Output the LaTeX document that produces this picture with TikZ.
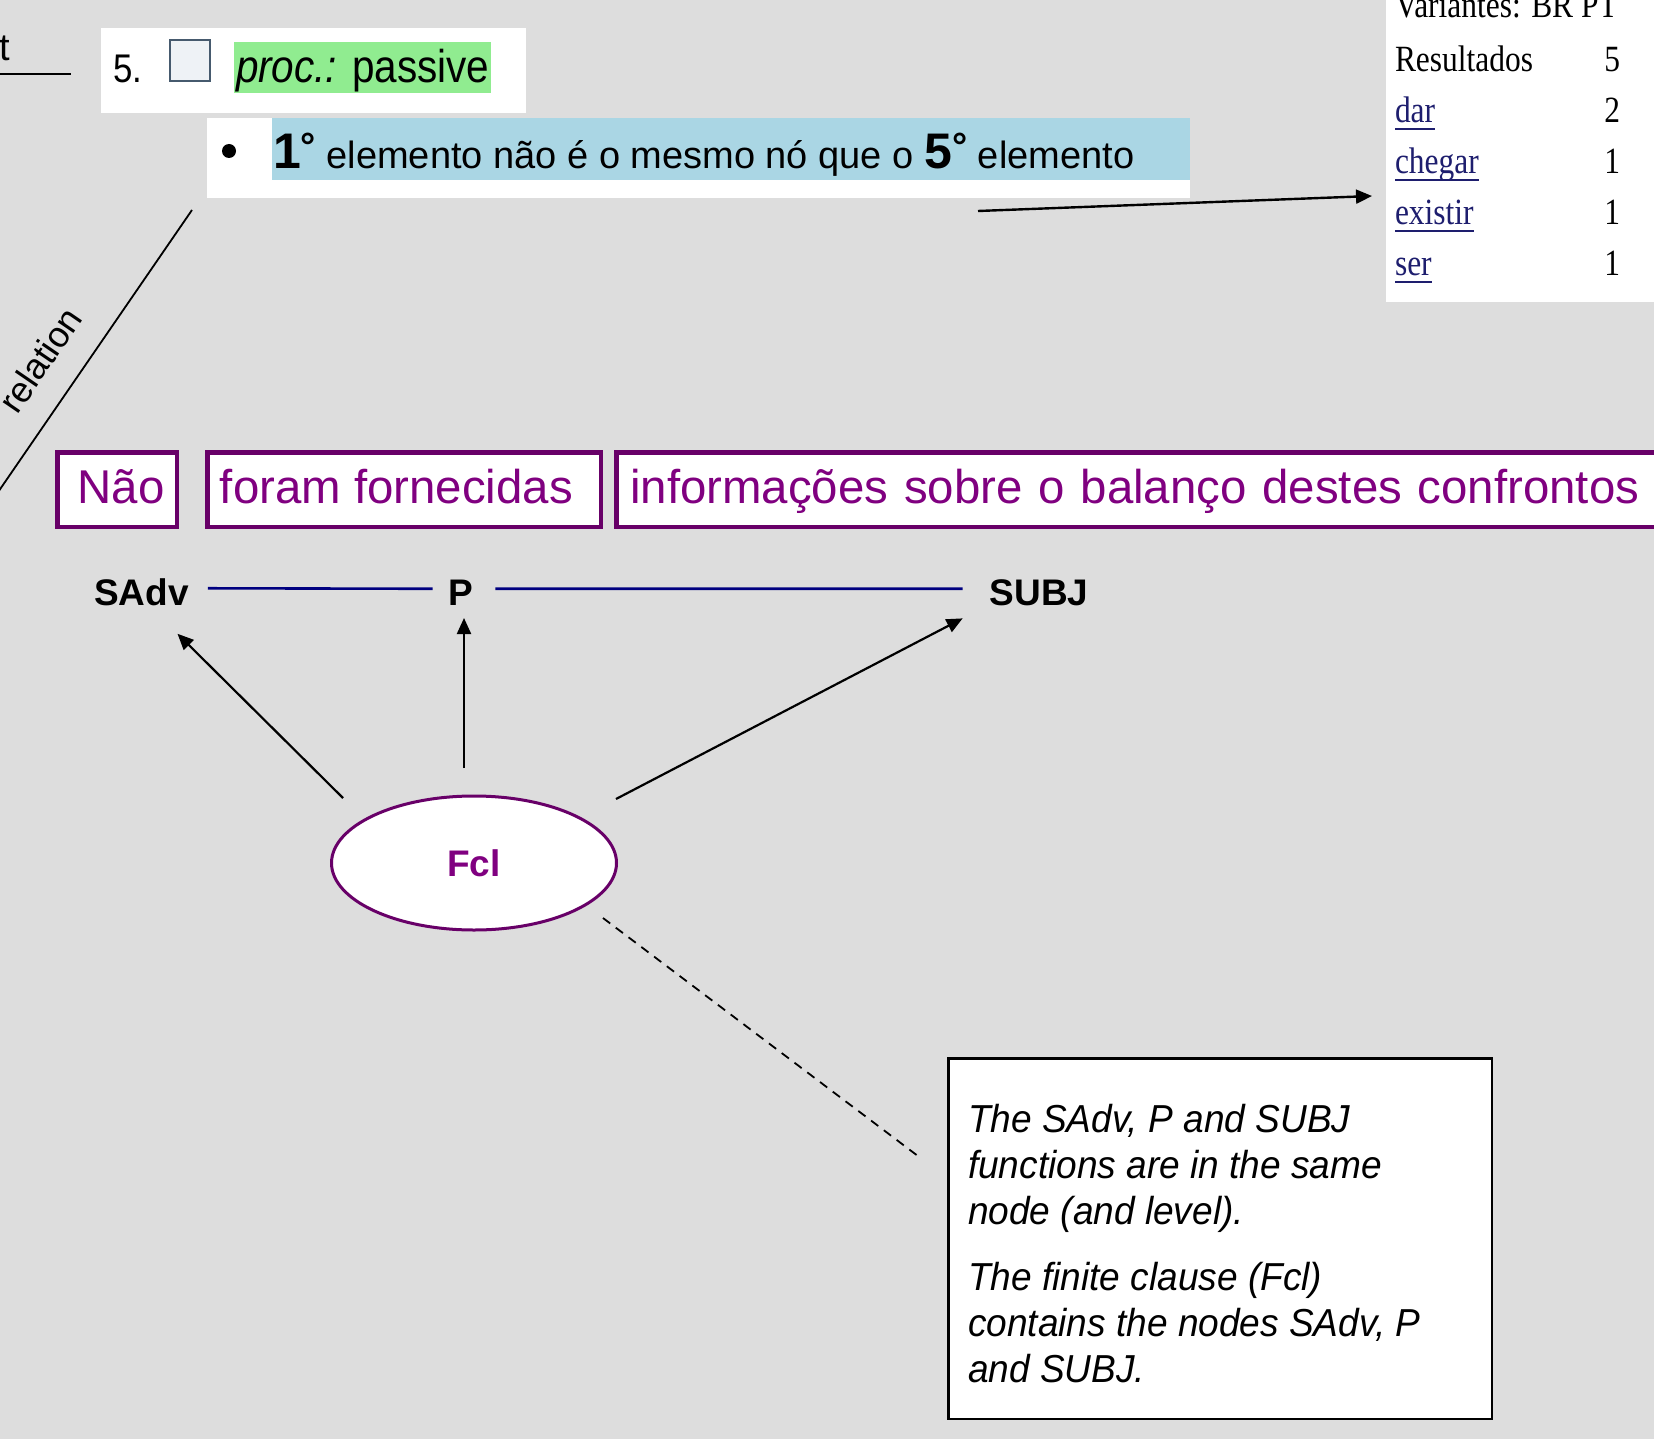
\documentclass[tikz,border=0pt]{standalone}
\usepackage{fontspec}
\setmainfont{Liberation Sans}
\newfontfamily\tabfont{Liberation Serif}
\usetikzlibrary{arrows.meta,shapes.geometric,calc}
\definecolor{bg}{RGB}{221,221,221}
\definecolor{purp}{RGB}{128,0,128}
\definecolor{purpdark}{RGB}{104,0,104}
\definecolor{navyl}{RGB}{0,0,128}
\definecolor{greenhl}{RGB}{144,236,144}
\definecolor{bluehl}{RGB}{170,214,228}
\definecolor{linkc}{RGB}{30,30,110}
\definecolor{chkc}{RGB}{70,90,110}
\definecolor{chkfill}{RGB}{238,242,246}
\newcommand\myfs[2]{\fontsize{#1}{#2}\selectfont}
\newsavebox\lnkbox
\newcommand\lnk[1]{\sbox\lnkbox{#1}\rlap{\rule[-7pt]{\wd\lnkbox}{1.6pt}}\usebox\lnkbox}
\newcommand\degr{\raisebox{9pt}{\bfseries °}}
\begin{document}
\begin{tikzpicture}[x=1pt,y=-1pt,
  every node/.style={inner sep=0pt, outer sep=0pt},
  pbox/.style={draw=purpdark, line width=4.5pt, fill=white, text=purp, font=\myfs{47.4}{58}, text height=36pt, text depth=9pt},
  bigl/.style={font=\myfs{37}{44}\bfseries},
  arr/.style={line width=2.2pt, -{Triangle[length=16pt,width=14pt]}},
  tabtxt/.style={font=\tabfont\myfs{37}{44}, xscale=0.85},
  lnktxt/.style={tabtxt, text=linkc},
  whitebox/.style={fill=white}]
\fill[bg] (0,0) rectangle (1654,1439);
\useasboundingbox (0,0) rectangle (1654,1439);

% top-left fragment
\node[font=\myfs{38}{44}, anchor=base west] (tfrag) at (-1,61) {t};
\coordinate (ul0) at (0,74);
\coordinate (ul1) at (71,74);
\draw[line width=1.8pt] (ul0) -- (ul1);

% box 1
\node[whitebox, minimum width=425, minimum height=85, anchor=north west] (box1) at (101,28) {};
\node[draw=chkc, line width=2pt, fill=chkfill, minimum width=40, minimum height=41, anchor=north west] (chk) at (170,40) {};
\node[font=\myfs{40}{44}, xscale=0.87, anchor=base west] (num5) at (113,83) {5.};
\node[fill=greenhl, minimum width=257, minimum height=51, anchor=north west] (hl1) at (234,42) {};
\node[font=\myfs{46}{50}, xscale=0.88, anchor=base west] (proc) at (236,83) {\textit{proc.:} passive};

% box 2
\node[whitebox, minimum width=983, minimum height=80, anchor=north west] (box2) at (207,118) {};
\node[fill=bluehl, minimum width=918, minimum height=62, anchor=north west] (hl2) at (272,118) {};
\node[circle, fill=black, minimum size=14] (bul) at (229,151) {};
\node[font=\myfs{38}{44}, anchor=base west] (stmt) at (273,169) {{\bfseries\myfs{50}{50}1}\degr\ elemento não é o mesmo nó que o {\bfseries\myfs{50}{50}5}\degr\ elemento};

% table
\node[whitebox, minimum width=268, minimum height=302, anchor=north west] (tab) at (1386,0) {};
\node[tabtxt, anchor=base west] (tv) at (1395,18) {Variantes: BR PT};
\node[tabtxt, anchor=base west] (tres) at (1395,72) {Resultados};
\node[tabtxt, anchor=base east] (nres) at (1620,72) {5};
\node[lnktxt, anchor=base west] (tdar) at (1395,123) {\lnk{dar}};
\node[tabtxt, anchor=base east] (ndar) at (1620,123) {2};
\node[lnktxt, anchor=base west] (tche) at (1395,174) {\lnk{chegar}};
\node[tabtxt, anchor=base east] (nche) at (1620,174) {1};
\node[lnktxt, anchor=base west] (texi) at (1395,225) {\lnk{existir}};
\node[tabtxt, anchor=base east] (nexi) at (1620,225) {1};
\node[lnktxt, anchor=base west] (tser) at (1395,276) {\lnk{ser}};
\node[tabtxt, anchor=base east] (nser) at (1620,276) {1};

\draw[line width=2.4pt, -{Triangle[length=16pt,width=14pt]}] ($(box2.south east)+(-212,13)$) -- ($(tab.west)+(-14,45)$);

% diagonal + relation
\coordinate (dg1) at (-6,498);
\draw[line width=1.8pt] ($(box2.south west)+(-15,12)$) -- (dg1);
\node[font=\myfs{36}{44}, rotate=55.6] (rel) at (40,360) {relation};

% purple boxes
\node[pbox, minimum width=119.5, minimum height=74.5, anchor=north west] (b1) at (57.25,452.25) {\hspace*{8pt}Não};
\node[pbox, minimum width=393.5, minimum height=74.5, anchor=north west] (b2) at (207.25,452.25) {foram fornecidas\hspace*{15pt}};
\node[pbox, minimum height=74.5, text width=1030, align=left, inner xsep=14, anchor=north west] (b3) at (616.25,452.25) {informações sobre o balanço destes confrontos};

% functions
\node[bigl, anchor=base] (SAdv) at (141.5,605) {SAdv};
\node[bigl, anchor=base] (P) at (461,605) {P};
\node[bigl, anchor=base] (SUBJ) at (1039,605) {SUBJ};
\draw[navyl, line width=2.6pt] ($(SAdv.east)+(19,-3.5)$) -- ($(P.west)+(-16,-3.5)$);
\draw[navyl, line width=2.6pt] ($(P.east)+(22,-3.5)$) -- ($(SUBJ.west)+(-27,-3.5)$);

% Fcl
\node[ellipse, draw=purpdark, line width=3pt, fill=white, minimum width=285, minimum height=134, text=purp, font=\myfs{37}{44}\bfseries] (Fcl) at (474,863) {Fcl};
\draw[arr] ($(Fcl.center)+(-131,-65)$) -- ($(SAdv.center)+(36,42)$);
\draw[arr] ($(Fcl.center)+(-10,-95)$) -- ($(P.south)+(3,13)$);
\draw[arr] ($(Fcl.center)+(142,-64)$) -- ($(SUBJ.south west)+(-27,13)$);

% note
\node[draw, line width=2.5pt, fill=white, minimum width=543.5, minimum height=360.5, anchor=north west] (note) at (948.25,1058.25) {};
\draw[line width=1.8pt, dash pattern=on 9pt off 7pt] ($(Fcl.center)+(129,55)$) -- ($(note.west)+(-27,-80)$);
\node[font=\myfs{39}{46}\itshape, xscale=0.95, align=left, anchor=north west] (notetxt) at (968,1104) {The SAdv, P and SUBJ\\functions are in the same\\node (and level).\\[20pt]The finite clause (Fcl)\\contains the nodes SAdv, P\\and SUBJ.};
\end{tikzpicture}
\end{document}
